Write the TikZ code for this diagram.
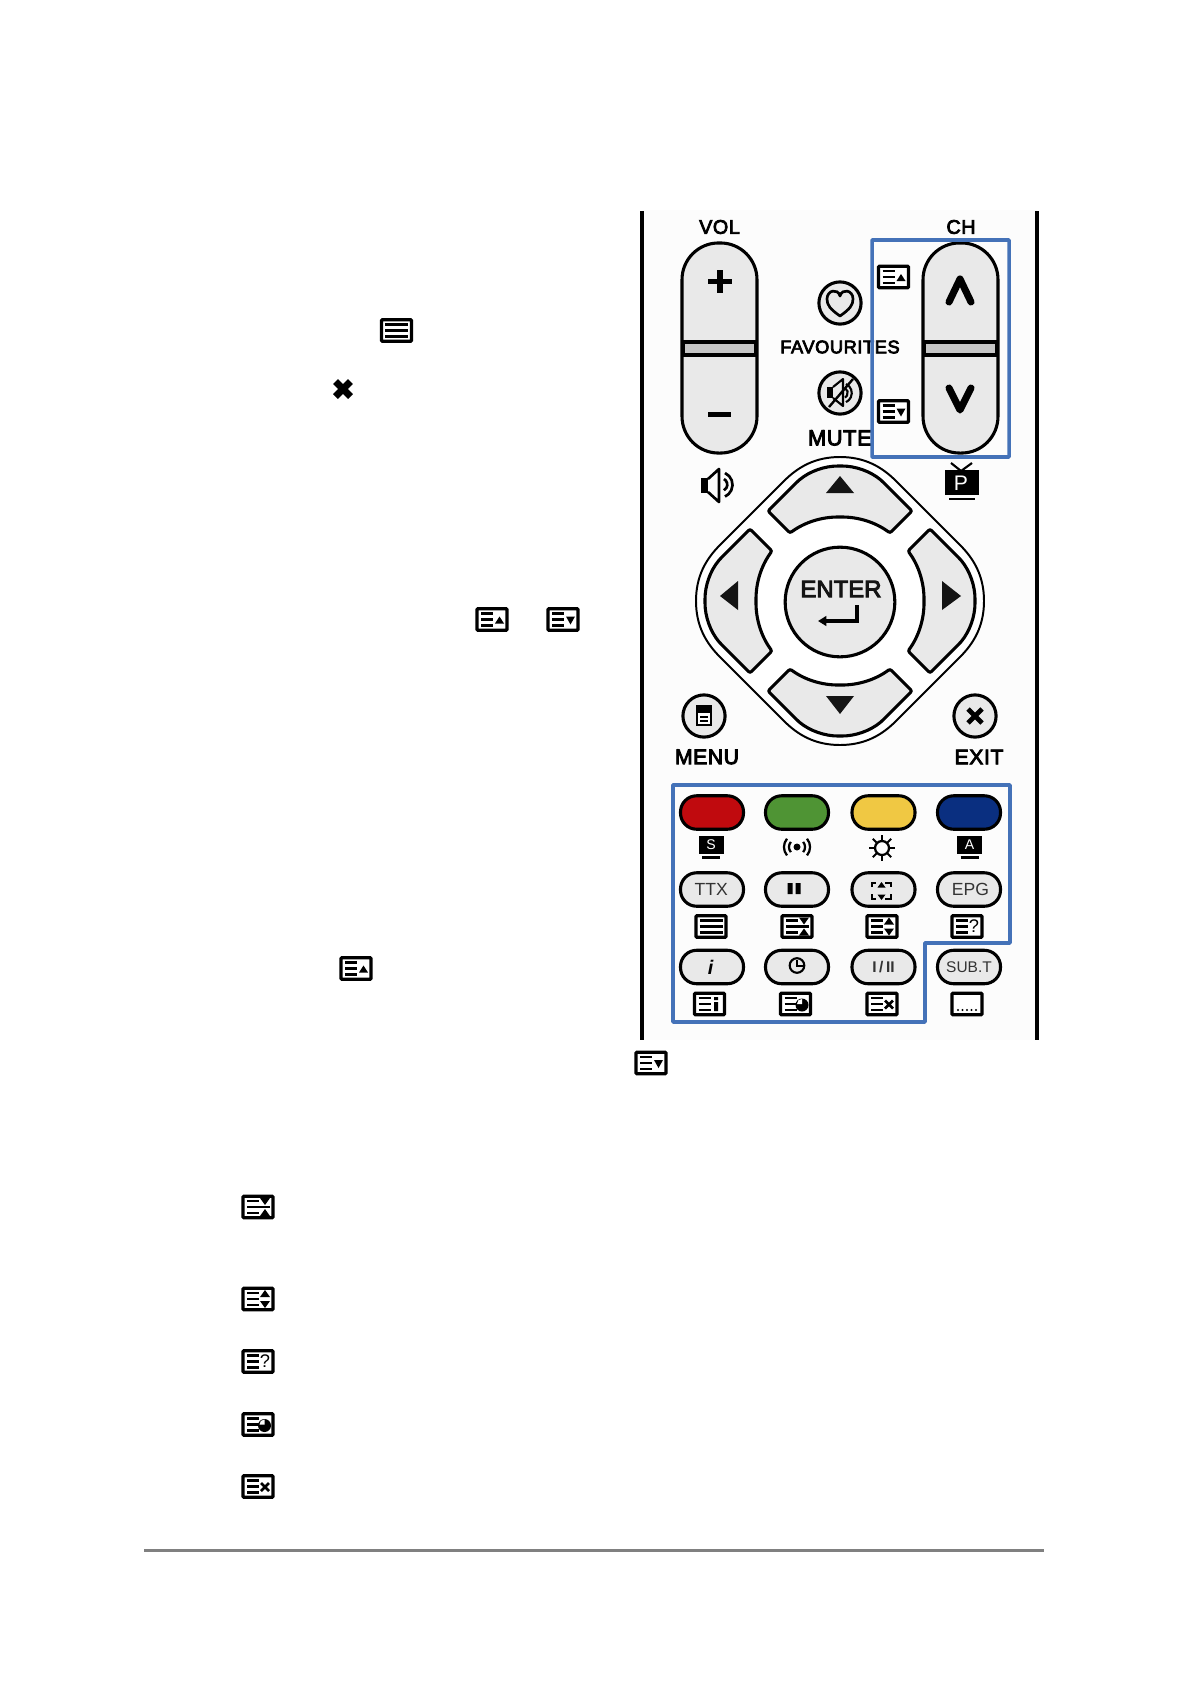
\documentclass[tikz,border=0pt]{standalone}
\usepackage{fontspec}
\setmainfont{Liberation Sans}
\newfontfamily\keyfont[FakeBold=4,LetterSpace=3]{Liberation Sans}
\newfontfamily\enterfont[FakeBold=4]{Liberation Sans}
\usetikzlibrary{arrows.meta}
\definecolor{keyfill}{HTML}{E9E9E9}
\definecolor{keybar}{HTML}{C6C6C6}
\definecolor{framecol}{HTML}{4472B8}
\definecolor{panelcol}{HTML}{FCFCFC}
\definecolor{capcol}{HTML}{333333}
\definecolor{softred}{HTML}{C00A0E}
\definecolor{softgreen}{HTML}{4F9434}
\definecolor{softyellow}{HTML}{F0C843}
\definecolor{softblue}{HTML}{0A2F80}
\tikzset{
  every node/.append style={inner sep=0pt, outer sep=0pt},
  keyline/.style={line width=2.2pt, black},
  rockerkey/.style={draw, keyline, fill=keyfill, minimum width=53.3pt, minimum height=149.4pt, rounded corners=26pt},
  pillkey/.style={draw, keyline, fill=keyfill, minimum width=44.8pt, minimum height=23.8pt, rounded corners=11.5pt, text=capcol, font=\fontsize{12.5}{12.5}\selectfont},
  roundkey/.style={draw, keyline, circle, fill=keyfill, minimum size=30pt},
  captxt/.style={font=\fontsize{#1}{#1}\selectfont\keyfont},
  capicon/.style={line width=1.5pt},
  pics/ticonbox/.style={code={
    \draw[line width=2.3pt, rounded corners=0.6pt, fill=white] (-15,-10.7) rectangle (15,10.7);
  }},
  pics/ticonleft/.style={code={
    \pic {ticonbox};
    \draw[capicon] (-11,-6) -- (1,-6) (-11,0) -- (1,0) (-11,6) -- (1,6);
  }},
  pics/ticonup/.style={code={
    \pic {ticonleft};
    \fill (3,4) -- (12,4) -- (7.5,-3) -- cycle;
  }},
  pics/ticondown/.style={code={
    \pic {ticonleft};
    \fill (3,-3) -- (12,-3) -- (7.5,5) -- cycle;
  }},
  pics/ticonfull/.style={code={
    \pic {ticonbox};
    \draw[capicon] (-11.5,-6) -- (11.5,-6) (-11.5,0) -- (11.5,0) (-11.5,6) -- (11.5,6);
  }},
  pics/ticonhold/.style={code={
    \pic {ticonbox};
    \draw[capicon] (-11,-6) -- (1,-6) (-11,0) -- (11.5,0) (-11,6) -- (1,6);
    \fill (2,-9) -- (12,-9) -- (7,-2) -- cycle (2,9) -- (12,9) -- (7,2) -- cycle;
  }},
  pics/ticonsize/.style={code={
    \pic {ticonleft};
    \fill (2,-2) -- (12,-2) -- (7,-9) -- cycle (2,2) -- (12,2) -- (7,9) -- cycle;
  }},
  pics/ticonhelp/.style={code={
    \pic {ticonleft};
    \node[font=\fontsize{13}{13}\selectfont] at (7,0) {?};
  }},
  pics/ticontime/.style={code={
    \pic {ticonleft};
    \fill (6.5,1) circle[radius=6.5];
    \fill[white] (6.5,0) -- (1.5,0) .. controls (1.5,-3) and (3.5,-5) .. (6.5,-5) -- cycle;
  }},
  pics/ticoncancel/.style={code={
    \pic {ticonleft};
    \draw[line width=1.9pt] (3,-3.5) -- (11,4.5) (3,4.5) -- (11,-3.5);
  }},
  pics/ticoninfo/.style={code={
    \pic {ticonleft};
    \fill (4.5,-2) rectangle (8.5,7) (4.5,-7) rectangle (8.5,-4);
  }},
  pics/ticonsub/.style={code={
    \pic {ticonbox};
    \foreach \dx in {-9,-4.5,0,4.5,9} {\fill (\dx,6) circle[radius=1.1];}
  }},
  pics/screenkey/.style={code={
    \fill (-12.5,-9) rectangle (12.5,9);
    \draw[capicon] (-9,12.5) -- (9,12.5);
    \node[white, font=\fontsize{10}{10}\selectfont] at (0,-0.5) {#1};
  }},
}
\begin{document}
\begin{tikzpicture}[x=0.025cm, y=-0.025cm]
  \useasboundingbox (0,0) rectangle (1190,1684);
  % remote panel
  \fill[panelcol] (642,210) rectangle (1037,1040);
  \draw[line width=2.9pt] (642,211) -- (642,1040);
  \draw[line width=2.9pt] (1037,211) -- (1037,1040);

  % volume and channel rockers
  \node[rockerkey] (volkey) at (719.5,348) {};
  \node[rockerkey] (chkey) at (960.5,348) {};
  \foreach \cx in {719.5,960.5} {
    \draw[keyline, fill=keybar] (\cx-36.5,342) rectangle (\cx+36.5,355);
  }
  \node[captxt=14] (vollabel) at (719.5,227) {VOL};
  \node[captxt=14] (chlabel) at (961,227) {CH};
  \fill (708,278.5) rectangle (732,284);
  \fill (717,269.5) rectangle (723,293);
  \fill (708,411.5) rectangle (731,417);
  \draw[line width=5pt, line cap=round, line join=round] (949,302) -- (960,279) -- (971,302);
  \draw[line width=5pt, line cap=round, line join=round] (949,388) -- (960,410) -- (971,388);

  % favourites and mute
  \node[roundkey] (favkey) at (840,303) {};
  \draw[line width=1.9pt, line join=round] (840,316) .. controls (830,309) and (827,305) .. (827,299) .. controls (827,290) and (838,288) .. (840,296) .. controls (842,288) and (853,290) .. (853,299) .. controls (853,305) and (850,309) .. (840,316) -- cycle;
  \node[captxt=13] (favlabel) at (840,347) {FAVOURITES};
  \node[roundkey] (mutekey) at (840,393) {};
  \fill (827,387) rectangle (833,398);
  \draw[line width=1.5pt, line join=round] (833,387) -- (843,379) -- (843,406) -- (833,398);
  \draw[line width=1.5pt] (846,384) arc[start angle=-65, end angle=65, radius=10];
  \draw[line width=1.5pt] (845,388) arc[start angle=-60, end angle=60, radius=5.5];
  \draw[line width=1.7pt] (829,407) -- (853,379);
  \node[captxt=15.5, anchor=west] (mutelabel) at (808,438) {MUTE};

  % blue frames
  \draw[framecol, line width=2.5pt, rounded corners=0.5pt] (872,240) rectangle (1009,457);
  \pic at (893.5,277) {ticonup};
  \pic at (893.5,411.5) {ticondown};

  % volume and programme signs
  \fill (701,478) rectangle (708,493);
  \draw[line width=1.9pt, line join=round] (708,479) -- (719,469) -- (719,502) -- (708,492);
  \draw[line width=1.9pt] (725,473) arc[start angle=-65, end angle=65, radius=13];
  \draw[line width=1.9pt] (724,479) arc[start angle=-60, end angle=60, radius=6.5];
  \fill (945,470) rectangle (979,495);
  \draw[line width=1.5pt] (951,463) -- (961,471) -- (972,463);
  \node[white, font=\fontsize{15}{15}\selectfont] (plabel) at (961,483) {P};
  \draw[line width=1.5pt] (949,499) -- (975,499);

  % cursor ring
  \draw[line width=1.4pt, fill=white, shift={(840,601)}]
    (0,-144) .. controls (25,-144) and (42,-134) .. (56,-120) -- (120,-56)
    .. controls (134,-42) and (144,-25) .. (144,0) .. controls (144,25) and (134,42) .. (120,56)
    -- (56,120) .. controls (42,134) and (25,144) .. (0,144) .. controls (-25,144) and (-42,134) .. (-56,120)
    -- (-120,56) .. controls (-134,42) and (-144,25) .. (-144,0) .. controls (-144,-25) and (-134,-42) .. (-120,-56)
    -- (-56,-120) .. controls (-42,-134) and (-25,-144) .. (0,-144) -- cycle;
  \foreach \rot in {0,90,180,270} {
    \draw[keyline, fill=keyfill, rounded corners=1.5pt, shift={(840,601)}, rotate=\rot]
      (-72,-90) -- (-42,-120) .. controls (-30,-130) and (-15,-135) .. (0,-135)
      .. controls (15,-135) and (30,-130) .. (42,-120) -- (72,-90) -- (50,-68)
      .. controls (35,-79) and (18,-84) .. (0,-84) .. controls (-18,-84) and (-35,-79) .. (-50,-68) -- cycle;
  }
  \fill[capcol!40!black] (840,476) -- (826,493) -- (854,493) -- cycle;
  \fill[capcol!40!black] (840,714) -- (826,696) -- (854,696) -- cycle;
  \fill[capcol!40!black] (720,596) -- (738,581) -- (738,610) -- cycle;
  \fill[capcol!40!black] (961,596) -- (942,581) -- (942,610) -- cycle;
  \node[roundkey, minimum size=78pt] (enterkey) at (840,602) {};
  \node[font=\fontsize{17}{17}\selectfont\enterfont, text=capcol!40!black] (enterlabel) at (841,589) {ENTER};
  \draw[line width=2.9pt, -{Triangle[length=6pt, width=7pt]}] (857,605) -- (857,621) -- (818,621);

  % menu and exit
  \node[roundkey] (menukey) at (704,716) {};
  \draw[line width=1.3pt, fill=white] (697,706) rectangle (711,725);
  \fill (697,706) rectangle (711,713);
  \draw[line width=1pt] (700,717) -- (708,717) (700,721) -- (708,721);
  \node[captxt=15] (menulabel) at (707,757) {MENU};
  \node[roundkey] (exitkey) at (975,716) {};
  \draw[line width=3.4pt] (968,709) -- (982,723) (968,723) -- (982,709);
  \node[captxt=15] (exitlabel) at (979,757) {EXIT};

  % colour keys
  \foreach \cx/\cc in {712/softred,797/softgreen,883.5/softyellow,969/softblue} {
    \node[pillkey, fill=\cc] at (\cx,812.5) {};
  }
  \pic at (711,845) {screenkey=S};
  \fill (797,847) circle[radius=3.5];
  \foreach \rr in {8,13} {
    \draw[line width=1.6pt] (797+\rr*0.77,847-\rr*0.64) arc[start angle=-40, end angle=40, radius=\rr];
    \draw[line width=1.6pt] (797-\rr*0.77,847-\rr*0.64) arc[start angle=220, end angle=140, radius=\rr];
  }
  \draw[line width=1.6pt] (882,848) circle[radius=7];
  \foreach \ang in {0,45,...,315} {
    \draw[line width=1.4pt] (882,848) ++(\ang:8) -- ++(\ang:5);
  }
  \pic at (969.5,845) {screenkey=A};

  % text keys, second row
  \node[pillkey] (ttxkey) at (712,889.5) {\hspace*{-1pt}\raisebox{-1pt}{TTX}};
  \node[pillkey] (holdkey) at (797,889.5) {};
  \fill (787.5,883) rectangle (792.5,894) (795.5,883) rectangle (800.5,894);
  \node[pillkey] (sizekey) at (883.5,889.5) {};
  \draw[line width=1.4pt] (872,887) -- (872,883) -- (876,883) (885,883) -- (891,883) -- (891,887)
    (891,894) -- (891,899) -- (885,899) (876,899) -- (872,899) -- (872,894);
  \fill (881.5,882) -- (877.5,887.5) -- (885.5,887.5) -- cycle (881.5,900) -- (877.5,894.5) -- (885.5,894.5) -- cycle;
  \node[pillkey] (epgkey) at (969,889.5) {\hspace*{2pt}\raisebox{-1pt}{EPG}};
  \pic at (711,926.5) {ticonfull};
  \pic at (797,926.5) {ticonhold};
  \pic at (882,926.5) {ticonsize};
  \pic at (967,926.5) {ticonhelp};

  % text keys, third row
  \node[pillkey, font=\fontsize{14}{14}\selectfont\bfseries\itshape, text=black] (infokey) at (712,967) {\hspace*{-2pt}i};
  \node[pillkey] (timekey) at (797,967) {};
  \draw[line width=1.5pt] (797,965.5) circle[radius=7.3];
  \draw[line width=1.4pt] (797,960) -- (797,966) -- (803,966);
  \node[pillkey, font=\fontsize{11}{11}\selectfont\bfseries] (dualkey) at (883.5,967) {I\,/\,II};
  \node[pillkey, font=\fontsize{11}{11}\selectfont] (subkey) at (969,967) {SUB.T};
  \pic at (709.5,1004) {ticoninfo};
  \pic at (795.5,1004) {ticontime};
  \pic at (882,1004) {ticoncancel};
  \pic at (967,1004) {ticonsub};
  \draw[framecol, line width=2.5pt, line join=round] (673,785) -- (1010,785) -- (1010,943) -- (925,943) -- (925,1022) -- (673,1022) -- cycle;

  % signs in the running text
  \pic at (396.5,330.5) {ticonfull};
  \draw[line width=5pt] (335.5,381.5) -- (350.5,396.5) (335.5,396.5) -- (350.5,381.5);
  \pic at (492,619.5) {ticonup};
  \pic at (563,619.5) {ticondown};
  \pic at (356,968.5) {ticonup};
  \pic at (651,1063) {ticondown};
  \pic at (258,1207) {ticonhold};
  \pic at (258,1299) {ticonsize};
  \pic at (258,1361.5) {ticonhelp};
  \pic at (258,1424.5) {ticontime};
  \pic at (258,1486.5) {ticoncancel};

  % foot rule
  \draw[gray, line width=2.4pt] (144,1550.5) -- (1044,1550.5);
\end{tikzpicture}
\end{document}
